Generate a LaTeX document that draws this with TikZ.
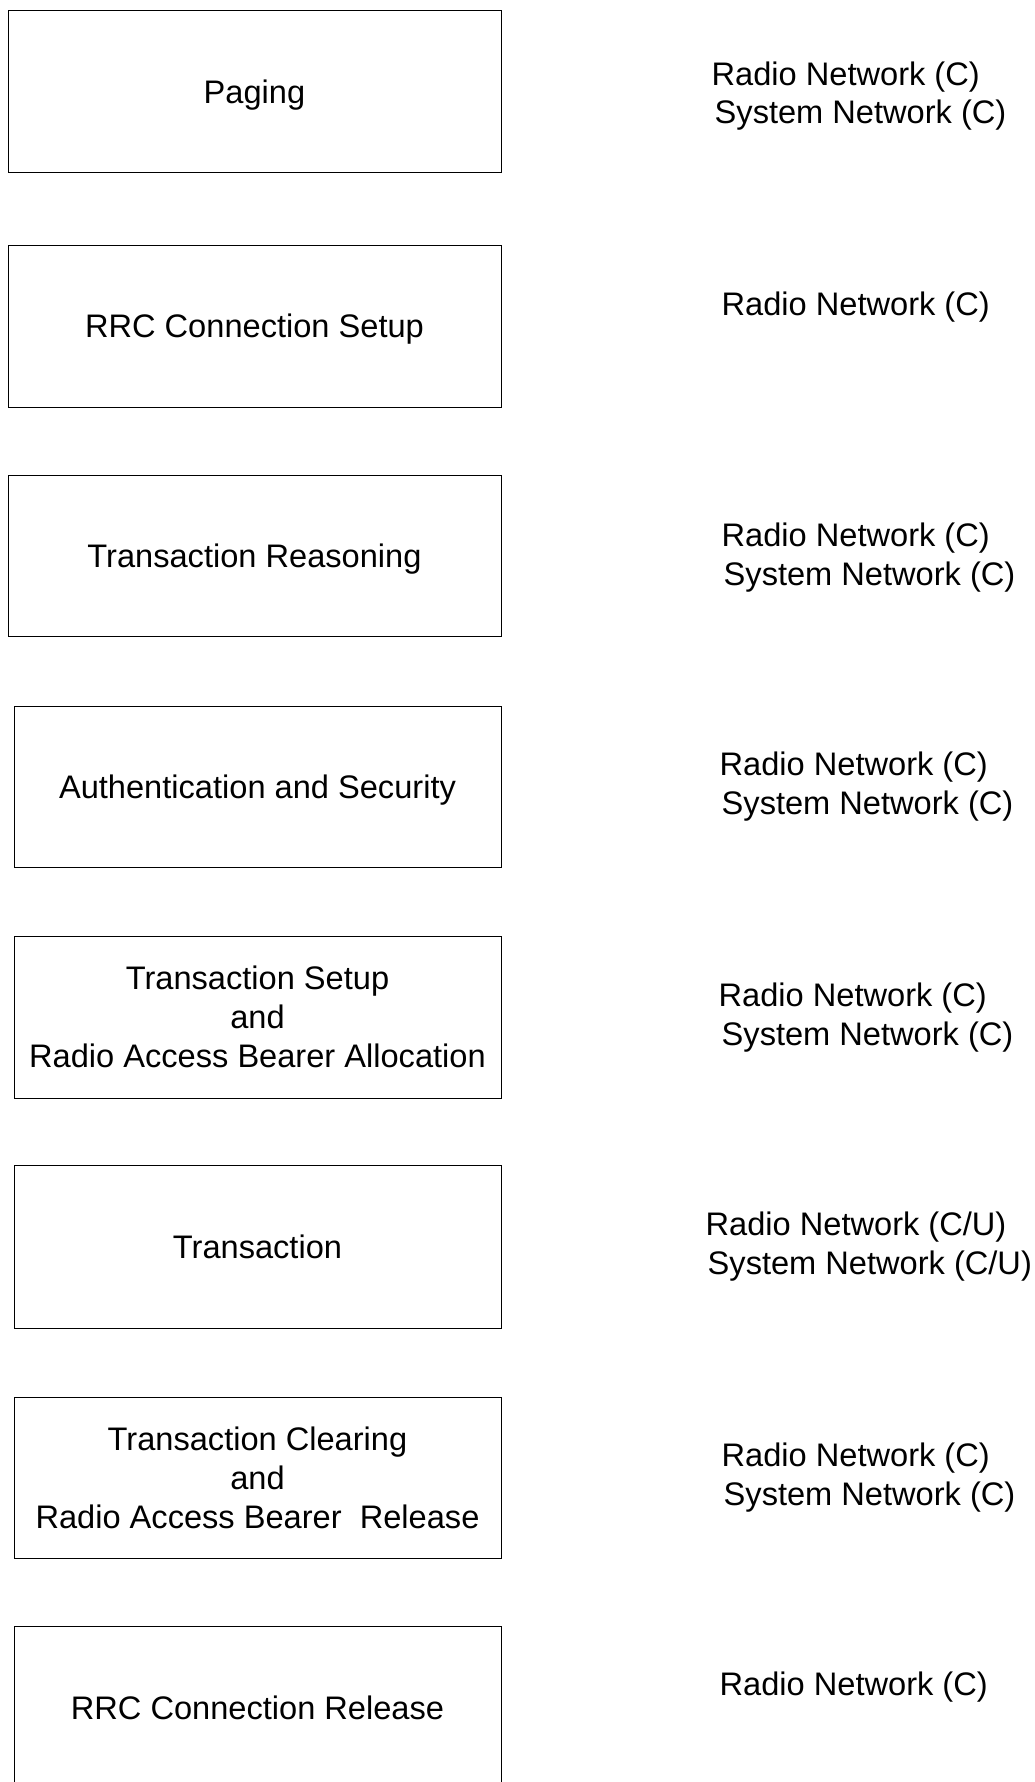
\documentclass[tikz,border=0pt]{standalone}
\usepackage{fontspec}
\setmainfont{Liberation Sans}
\begin{document}
\begin{tikzpicture}[x=1pt,y=-1pt,
  every node/.style={font=\fontsize{32.6}{39}\selectfont},
  stagebox/.style={draw=black, line width=1pt, rectangle, align=center,
    inner sep=0pt, text depth=0pt, minimum height=161pt},
  wide/.style={minimum width=493pt},
  narrow/.style={minimum width=487pt},
  netlabel/.style={anchor=base west, inner sep=0pt}]
\clip (0,0) rectangle (1034,1782);
\fill[white] (0,0) rectangle (1034,1782);
% stage boxes
\node[stagebox,wide]   (b1) at (254.5,91.5)  {Paging};
\node[stagebox,wide,minimum height=162pt]   (b2) at (254.5,326)   {RRC Connection Setup};
\node[stagebox,wide]   (b3) at (254.5,555.5) {Transaction Reasoning};
\node[stagebox,narrow] (b4) at (257.5,786.5) {Authentication and Security};
\node[stagebox,narrow,minimum height=162pt] (b5) at (257.5,1017)  {Transaction Setup\\and\\Radio Access Bearer Allocation};
\node[stagebox,narrow,minimum height=163pt] (b6) at (257.5,1246.5){Transaction};
\node[stagebox,narrow] (b7) at (257.5,1477.5){Transaction Clearing\\and\\Radio Access Bearer~~Release};
\node[stagebox,narrow,minimum height=164pt] (b8) at (257.5,1708)  {RRC Connection Release};
% network labels
\node[netlabel] (r1) at (711.5,86)   {Radio Network (C)};
\node[netlabel] (s1) at (714.5,124)  {System Network (C)};
\node[netlabel] (r2) at (721.5,315)  {Radio Network (C)};
\node[netlabel] (r3) at (721.5,546)  {Radio Network (C)};
\node[netlabel] (s3) at (723.5,585)  {System Network (C)};
\node[netlabel] (r4) at (719.5,775)  {Radio Network (C)};
\node[netlabel] (s4) at (721.5,814)  {System Network (C)};
\node[netlabel] (r5) at (718.5,1006) {Radio Network (C)};
\node[netlabel] (s5) at (721.5,1045) {System Network (C)};
\node[netlabel] (r6) at (705.5,1235) {Radio Network (C/U)};
\node[netlabel] (s6) at (707.5,1274) {System Network (C/U)};
\node[netlabel] (r7) at (721.5,1466) {Radio Network (C)};
\node[netlabel] (s7) at (723.5,1505) {System Network (C)};
\node[netlabel] (r8) at (719.5,1695) {Radio Network (C)};
\end{tikzpicture}
\end{document}
